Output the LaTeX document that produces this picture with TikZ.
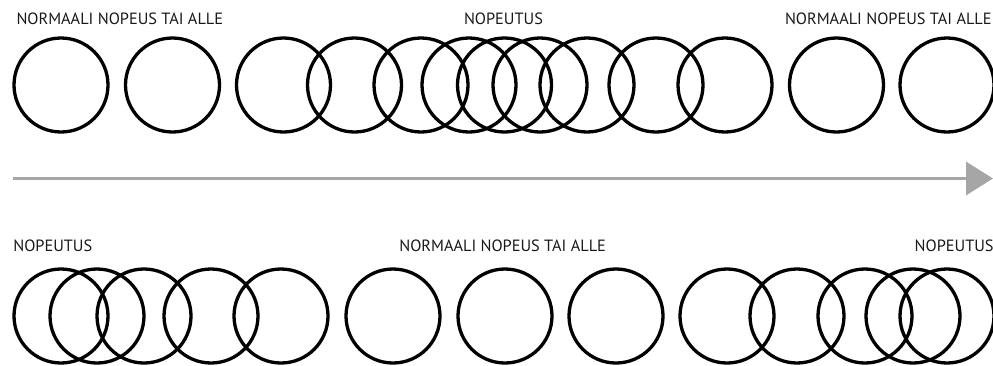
\documentclass[tikz,border=0pt]{standalone}
\usepackage{fontspec}
\setmainfont{PT Sans}
\usetikzlibrary{arrows.meta}
\definecolor{arrowgray}{HTML}{A6A6A6}
\tikzset{
  ring/.style={circle, draw=black, line width=3.3pt, minimum size=94pt, inner sep=0pt, outer sep=0pt},
  lbl/.style={anchor=base west, inner sep=0pt, outer sep=0pt, font=\fontsize{16.3pt}{19pt}\selectfont, text=black!90},
  timeline/.style={draw=arrowgray, line width=3.5pt, -{Triangle[length=27pt, width=33pt]}}
}
\begin{document}
\begin{tikzpicture}[x=1pt, y=-1pt]
\useasboundingbox (0,0) rectangle (993,365);
% top labels
\node[lbl] (tl1) at (16.5,24.3) {NORMAALI NOPEUS TAI ALLE};
\node[lbl] (tl2) at (464,24.3) {NOPEUTUS};
\node[lbl] (tl3) at (785,24.3) {NORMAALI NOPEUS TAI ALLE};
% top circles
\foreach \x [count=\i] in {61,172.5,283.5,354.5,421,469,504.5,540,587,656,725,836.5,947}
  \node[ring] (t\i) at (\x,85) {};
% arrow
\coordinate (as) at (13,178.5);
\coordinate (ae) at (993,178.5);
\draw[timeline] (as) -- (ae);
% bottom labels
\node[lbl] (bl1) at (13.3,251.7) {NOPEUTUS};
\node[lbl] (bl2) at (399.3,251.7) {NORMAALI NOPEUS TAI ALLE};
\node[lbl] (bl3) at (914.7,251.7) {NOPEUTUS};
% bottom circles
\foreach \x [count=\i] in {61,97,144,211,281,393,505,616,727,797,865,913,947}
  \node[ring] (b\i) at (\x,316) {};
\end{tikzpicture}
\end{document}
